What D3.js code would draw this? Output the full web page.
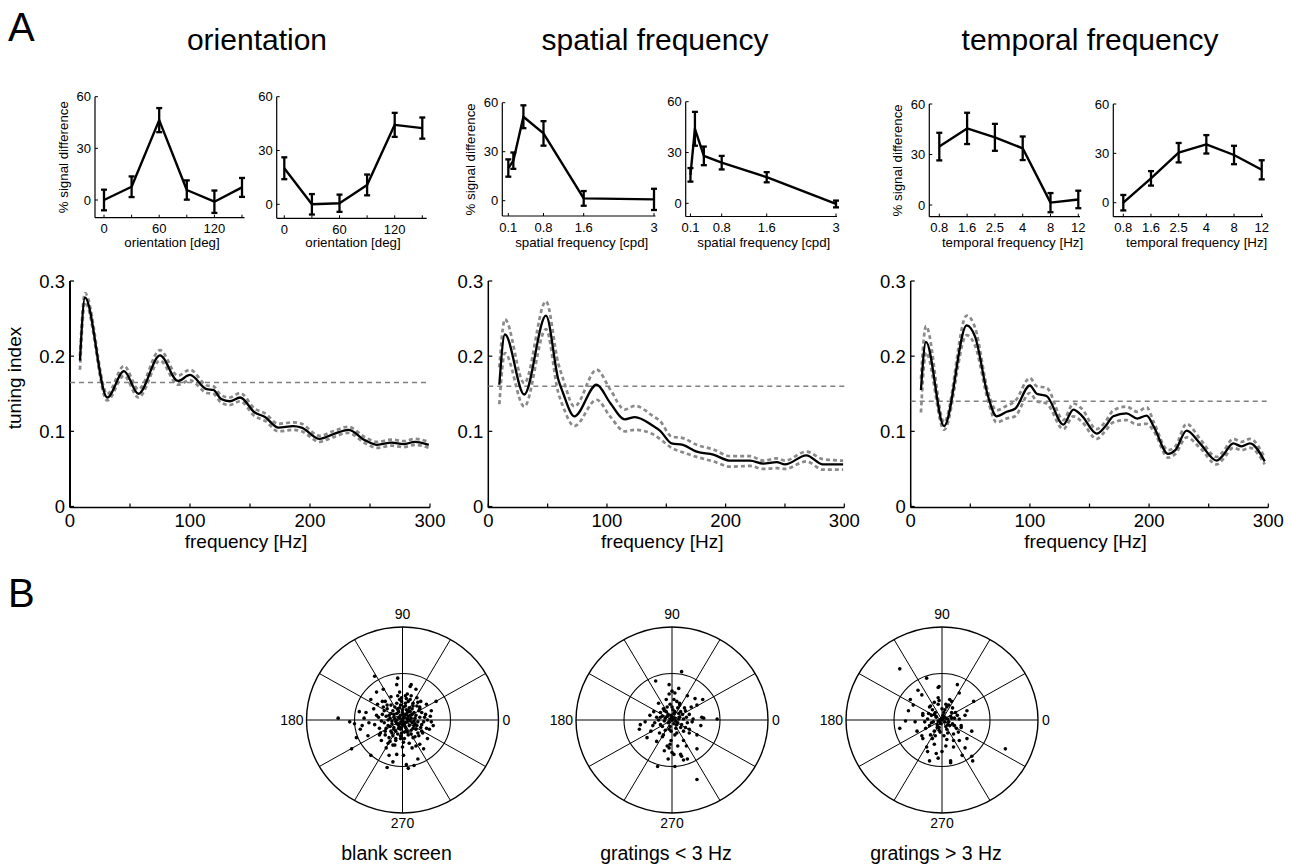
<!DOCTYPE html>
<html lang="en">
<head>
<meta charset="UTF-8">
<title>tuning</title>
<script src="https://cdn.jsdelivr.net/npm/d3@7"></script>
<style>
  body { margin: 0; background: #fff; }
  svg { display: block; font-family: "Liberation Sans", Arial, sans-serif; }
</style>
</head>
<body>
<svg width="1291" height="867" id="mainsvg"></svg>
<script>
// small tuning curves, % signal difference
const oriX = [0, 30, 60, 90, 120, 150];
const ori1 = [0, 7.7, 46.4, 5.8, -1, 7.3];
const ori1Err = [6, 6, 7, 5.6, 6.5, 5.5];
const ori2 = [20.1, 0, 0.6, 10.8, 44.3, 42.5];
const ori2Err = [6.1, 5.7, 4.8, 5.8, 6.7, 5.9];

const sfX = [0.1, 0.2, 0.4, 0.8, 1.6, 3];
const sfTicks = [0.1, 0.8, 1.6, 3];
const sf1 = [20, 24.5, 51.4, 41.2, 1.4, 0.8];
const sf1Err = [5.3, 5, 7, 7.5, 4.5, 6.5];
const sf2 = [16.8, 44, 28, 24, 15.4, -0.4];
const sf2Err = [4, 10, 5.5, 4, 3, 2];

const tfX = ['0.8', '1.6', '2.5', '4', '8', '12'];
const tf1 = [34.7, 45.5, 40.2, 33.7, 1.4, 3.3];
const tf1Err = [8.2, 9.3, 8, 7, 5.7, 5.2];
const tf2 = [0, 14.8, 30.4, 35.5, 29, 20];
const tf2Err = [4.7, 4.4, 5.9, 5.6, 5.6, 5.8];

// tuning index vs frequency (mean, upper, lower)
const oFreq = [8.3, 12.5, 31, 45, 57, 75, 90, 100, 114, 119.4, 126, 133, 141.7, 154, 162.5, 173.6, 186, 193, 208, 219, 232, 246, 256, 268, 278, 287.5, 299];
const oMean = [0.194, 0.278, 0.145, 0.18, 0.15, 0.201, 0.167, 0.175, 0.156, 0.155, 0.143, 0.14, 0.145, 0.125, 0.119, 0.105, 0.107, 0.105, 0.09, 0.096, 0.102, 0.088, 0.082, 0.085, 0.083, 0.086, 0.082];
const oUp = [0.2, 0.284, 0.15, 0.187, 0.156, 0.208, 0.174, 0.182, 0.161, 0.16, 0.148, 0.145, 0.151, 0.13, 0.124, 0.11, 0.112, 0.11, 0.094, 0.1, 0.106, 0.092, 0.086, 0.089, 0.087, 0.09, 0.086];
const oLo = [0.182, 0.272, 0.141, 0.174, 0.145, 0.194, 0.162, 0.168, 0.151, 0.15, 0.138, 0.135, 0.14, 0.12, 0.114, 0.1, 0.102, 0.1, 0.086, 0.092, 0.098, 0.084, 0.078, 0.081, 0.079, 0.082, 0.078];
const oThr = 0.165;

const sFreq = [9.3, 14, 30.3, 48.6, 59, 63, 72.5, 91.3, 102.6, 115, 123.6, 139, 144.6, 154.5, 164, 175.6, 189.6, 203.6, 220.5, 231.7, 243, 250, 268, 282, 299];
const sMean = [0.162, 0.229, 0.149, 0.254, 0.169, 0.151, 0.12, 0.162, 0.138, 0.116, 0.119, 0.107, 0.101, 0.084, 0.082, 0.073, 0.069, 0.061, 0.061, 0.057, 0.059, 0.056, 0.068, 0.056, 0.056];
const sUp = [0.185, 0.249, 0.164, 0.273, 0.19, 0.17, 0.133, 0.182, 0.156, 0.129, 0.134, 0.12, 0.114, 0.093, 0.091, 0.082, 0.076, 0.067, 0.067, 0.061, 0.064, 0.061, 0.073, 0.063, 0.061];
const sLo = [0.136, 0.204, 0.133, 0.236, 0.151, 0.133, 0.107, 0.142, 0.12, 0.1, 0.102, 0.096, 0.09, 0.078, 0.072, 0.066, 0.06, 0.053, 0.054, 0.05, 0.051, 0.05, 0.06, 0.049, 0.049];
const sThr = 0.16;

const tFreq = [8.6, 12.8, 28, 47, 54, 65, 72, 80.5, 87.5, 100, 105.7, 114, 128, 136.5, 143.5, 156, 163, 170, 181, 190, 198, 204, 216, 222, 231.5, 242.7, 256.7, 262, 270.6, 277.6, 284.6, 297];
const tMean = [0.155, 0.219, 0.107, 0.241, 0.226, 0.146, 0.12, 0.126, 0.13, 0.161, 0.15, 0.147, 0.109, 0.129, 0.121, 0.097, 0.106, 0.12, 0.124, 0.117, 0.121, 0.106, 0.07, 0.075, 0.101, 0.084, 0.061, 0.068, 0.084, 0.08, 0.084, 0.06];
const tUp = [0.17, 0.24, 0.112, 0.254, 0.238, 0.152, 0.128, 0.134, 0.14, 0.171, 0.16, 0.158, 0.115, 0.137, 0.13, 0.103, 0.112, 0.128, 0.133, 0.126, 0.132, 0.112, 0.075, 0.08, 0.11, 0.09, 0.066, 0.073, 0.09, 0.086, 0.09, 0.065];
const tLo = [0.125, 0.205, 0.102, 0.228, 0.214, 0.14, 0.112, 0.117, 0.12, 0.151, 0.14, 0.137, 0.103, 0.12, 0.113, 0.09, 0.1, 0.112, 0.115, 0.109, 0.11, 0.1, 0.065, 0.07, 0.092, 0.078, 0.056, 0.063, 0.078, 0.075, 0.078, 0.056];
const tThr = 0.14;

// polar scatter, [x, y] in % of outer radius
const blankPts = [[-67,2],[-55,-2],[-53,-31],[-33,-38],[-16,-51],[4,-48],[6,-52],[12,-49],[-29,47],[-6,38],[9,38],[8,36],[35,20],[25,17],[30,-2],[32,-6],[22,-31],[18,-26],[-48,-19],[-45,9],[-40,2],[-26,17],[-27,30],[-20,33],[-18,-12],[-24,-16],[-13,-23],[-6,-37],[1,-38],[10,-30],[11,-19],[-36,-17],[-17,-30],[-42,-6],[-44,-10],[-38,8],[-30,12],[-35,-3],[-22,-22],[-8,-27],[-2,-20],[14,-28],[20,-12],[28,-10],[24,6],[18,14],[15,24],[5,28],[-3,30],[-12,25],[-18,20],[-25,3],[-10,-45],[-14,-38],[16,-42],[26,-20],[-50,-4],[-33,22],[-5,45],[14,33],[30,10],
  [0,0],[2,3],[-3,2],[5,-2],[-6,-4],[8,5],[-9,6],[3,-8],[-2,-10],[10,-3],[-11,-1],[6,10],[-5,12],[12,8],[-14,5],[1,14],[-1,-14],[15,-6],[-7,-12],[9,-11],[4,6],[-4,-6],[7,1],[-8,1],[0,8],[0,-5],[13,2],[-13,-7],[3,18],[-6,18],[11,15],[-16,12],[18,3],[-19,-3],[6,-16],[-10,-17],[16,-14],[-3,22],[8,22],[-12,16],[20,8],[-21,6],[2,-20],[-7,-20],[13,-18],[-17,-9],[4,11],[-2,5],[10,12],[-10,10],[5,-13],[-5,-15],[14,-10],[-15,0],[17,10],[-2,16],[9,2],[-12,-12],[1,-3],[-4,9],[7,-6],[12,-1],[-1,24],[-9,-8],[3,26],[16,19],[-20,14],[19,-8],[-18,-16],[22,-2],
  [1,6],[-1,-2],[3,-3],[-4,3],[6,4],[-7,-2],[2,-6],[-3,-4],[8,-1],[-9,3],[5,8],[-6,7],[10,6],[-11,-4],[4,-11],[-4,-9],[12,-6],[-13,2],[7,13],[-8,14],[14,5],[-15,-6],[3,15],[-2,-17],[16,-2],[-17,4],[9,-15],[-11,-14],[18,12],[-19,10],[6,20],[-7,-22],[20,-5],[-22,-1],[11,18],[-14,-19],[23,3],[-24,-9],[1,-24],[-1,20],[13,-4],[-6,0],[0,11],[2,-13],[-12,7],[11,-9],[-3,13],[5,1],[-2,-8],[8,9],[-9,-10],[15,15],[-16,16],[17,-17],[4,23],[-5,26],[26,0],[-27,5],[9,26],[-10,-27],[21,-14],[-23,-14],[25,-9],[19,20],[-21,20],[0,-29],[7,-25],[-15,-25],[29,4],[-29,-5]];
const lowPts = [[10,52],[-17,42],[0,31],[3,29],[-3,28],[16,26],[24,23],[32,22],[26,16],[31,3],[33,2],[47,1],[22,1],[21,-2],[26,-16],[-33,-5],[-34,-10],[-26,-19],[-23,5],[-19,9],[-16,-23],[-5,-28],[-3,-30],[-2,-26],[0,-35],[2,-37],[9,-37],[10,-39],[16,-42],[12,-43],[26,-31],[-15,-50],[3,-50],[26,-64],[-12,3],[-8,10],[5,20],[8,16],[-6,22],[14,10],[18,6],[-28,-2],[-20,-6],[-10,-18],[12,-22],[6,-28],[-8,-33],[18,-14],[12,-12],[20,14],[-14,18],[0,14],[-3,38],[7,34],[-22,-12],[30,-6],[15,-28],[-4,-42],
  [0,0],[3,2],[-3,-2],[6,-3],[-5,4],[2,7],[-2,-7],[8,3],[-8,-1],[4,-9],[-6,9],[10,-5],[-10,4],[1,11],[-1,-12],[12,1],[-12,-5],[6,13],[-7,-11],[9,9],[-9,12],[14,-8],[0,4],[5,-5],[-4,6],[7,7],[-14,0],[15,3],[-2,17],[3,-16],
  [1,2],[-2,1],[4,-1],[-4,-3],[2,-4],[-1,5],[7,1],[-7,2],[3,9],[-3,-10],[9,-8],[-10,-7],[11,6],[-12,8],[5,-14],[-5,14],[16,-3],[-16,3],[8,18],[-9,-16],[13,13],[-13,-14],[18,-10],[-18,-3],[2,22],[-1,-22]];
const highPts = [[-44,55],[-16,45],[-4,35],[-3,36],[16,38],[18,29],[-33,22],[-25,32],[-21,27],[33,20],[26,10],[24,5],[-35,10],[-38,-1],[-44,-9],[-28,-2],[-26,-12],[-21,-17],[-20,-20],[-16,-29],[-15,-34],[-6,-36],[-4,-41],[0,-34],[9,-44],[9,-46],[12,-22],[12,-29],[18,-22],[26,-20],[31,-12],[21,-38],[31,-39],[32,-44],[66,-31],[-13,-44],[-8,19],[4,17],[8,22],[10,20],[-13,14],[-20,7],[20,-6],[-10,-20],[6,-14],[-4,24],[14,8],[-30,16],[24,-30],[4,-28],[-8,-26],
  [1,1],[4,2],[-2,-3],[7,-2],[-6,3],[2,8],[-3,-8],[9,4],[-9,-2],[5,-10],[-7,8],[11,-4],[-11,5],[0,12],[-2,-13],[13,2],[-13,-6],[5,14],[-8,-12],[10,8],[-10,11],[15,-9],[-15,1],[16,5],[-4,17],[2,-17],[-17,-9],[17,-13],[1,5],[6,-5],[-5,-5],[12,-15],[-12,15],
  [0,2],[-2,0],[3,-2],[-4,-1],[2,4],[-1,-4],[6,1],[-6,4],[4,-7],[-5,-8],[8,-6],[-8,6],[10,2],[-11,-3],[3,11],[-3,-11],[13,-6],[-14,7],[7,16],[-7,-17],[18,1],[-18,-2],[11,13],[-12,-16],[20,-8],[-20,5],[5,-21],[-3,21]];

const svg = d3.select('#mainsvg');
svg.append('rect').attr('width', 1291).attr('height', 867).attr('fill', '#fff');

// panel letters and column titles
svg.append('text').text('A').attr('x', 8).attr('y', 41).attr('font-size', 40);
svg.append('text').text('B').attr('x', 8).attr('y', 607).attr('font-size', 40);
const titles = [['orientation', 257], ['spatial frequency', 655], ['temporal frequency', 1090]];
svg.selectAll('text.title').data(titles).enter().append('text')
    .attr('class', 'title')
    .attr('x', d => d[1])
    .attr('y', 50)
    .attr('text-anchor', 'middle')
    .attr('font-size', 30)
    .text(d => d[0]);

// ---- small panels ----
const small = [
    { vals: ori1, err: ori1Err, xv: oriX, x: d3.scaleLinear().domain([0, 150]).range([104, 242]),
      left: 95, right: 244.5, y60: 96.7, y0: 200, bottom: 217.7, ticks: oriX, labels: [0, 60, 120],
      xlab: 'orientation [deg]', xlabX: 172, ylab: true },
    { vals: ori2, err: ori2Err, xv: oriX, x: d3.scaleLinear().domain([0, 150]).range([284.3, 422.3]),
      left: 276.7, right: 426.7, y60: 96.7, y0: 204.3, bottom: 218.3, ticks: oriX, labels: [0, 60, 120],
      xlab: 'orientation [deg]', xlabX: 353, ylab: false },
    { vals: sf1, err: sf1Err, xv: sfX, x: d3.scaleLinear().domain([0, 0.8, 1.6, 3]).range([503.3, 543.5, 583.7, 654]),
      left: 502.3, right: 655.5, y60: 102.7, y0: 200.7, bottom: 216, ticks: sfTicks, labels: sfTicks,
      xlab: 'spatial frequency [cpd]', xlabX: 581.7, ylab: true },
    { vals: sf2, err: sf2Err, xv: sfX, x: d3.scaleLinear().domain([0, 0.8, 1.6, 3]).range([686, 721.7, 766.7, 836]),
      left: 685.7, right: 837, y60: 101.7, y0: 203.3, bottom: 216.5, ticks: sfTicks, labels: sfTicks,
      xlab: 'spatial frequency [cpd]', xlabX: 763.8, ylab: false },
    { vals: tf1, err: tf1Err, xv: tfX, x: d3.scalePoint().domain(tfX).range([939.3, 1078.3]),
      left: 929.3, right: 1080, y60: 104, y0: 205, bottom: 216.7, ticks: tfX, labels: tfX,
      xlab: 'temporal frequency [Hz]', xlabX: 1012.5, ylab: true },
    { vals: tf2, err: tf2Err, xv: tfX, x: d3.scalePoint().domain(tfX).range([1123.3, 1261.7]),
      left: 1113.3, right: 1263, y60: 104, y0: 202.7, bottom: 216.7, ticks: tfX, labels: tfX,
      xlab: 'temporal frequency [Hz]', xlabX: 1196.7, ylab: false }
];

small.forEach(p => {
    const g = svg.append('g');
    const y = d3.scaleLinear().domain([0, 60]).range([p.y0, p.y60]);
    // axes
    g.append('line').attr('x1', p.left).attr('x2', p.left).attr('y1', p.bottom).attr('y2', p.y60)
        .attr('stroke', '#000').attr('stroke-width', 1.2);
    g.append('line').attr('x1', p.left).attr('x2', p.right).attr('y1', p.bottom).attr('y2', p.bottom)
        .attr('stroke', '#000').attr('stroke-width', 1.2);
    [0, 30, 60].forEach(v => {
        g.append('line').attr('x1', p.left).attr('x2', p.left + 3).attr('y1', y(v)).attr('y2', y(v))
            .attr('stroke', '#000').attr('stroke-width', 1);
        g.append('text').text(v).attr('x', p.left - 4).attr('y', y(v)).attr('dy', '0.36em')
            .attr('text-anchor', 'end').attr('font-size', 13);
    });
    p.ticks.forEach(t => {
        g.append('line').attr('x1', p.x(t)).attr('x2', p.x(t)).attr('y1', p.bottom).attr('y2', p.bottom - 3)
            .attr('stroke', '#000').attr('stroke-width', 1);
    });
    p.labels.forEach(t => {
        g.append('text').text(t).attr('x', p.x(t)).attr('y', p.bottom + 15.5)
            .attr('text-anchor', 'middle').attr('font-size', 13);
    });
    g.append('text').text(p.xlab).attr('x', p.xlabX).attr('y', 246.5)
        .attr('text-anchor', 'middle').attr('font-size', 13.3);
    if (p.ylab) {
        g.append('text').text('% signal difference')
            .attr('transform', `translate(${p.left - 31},${(p.y60 + p.bottom) / 2}) rotate(-90)`)
            .attr('text-anchor', 'middle').attr('dominant-baseline', 'middle').attr('font-size', 13.3);
    }
    const pts = p.xv.map((xv, i) => ({ x: p.x(xv), v: p.vals[i], e: p.err[i] }));
    // error bars
    const eb = g.selectAll('g.eb').data(pts).enter().append('g')
        .attr('stroke', '#000').attr('stroke-width', 2.3);
    eb.append('line').attr('x1', d => d.x).attr('x2', d => d.x)
        .attr('y1', d => y(d.v - d.e)).attr('y2', d => y(d.v + d.e));
    eb.append('line').attr('x1', d => d.x - 3).attr('x2', d => d.x + 3)
        .attr('y1', d => y(d.v - d.e)).attr('y2', d => y(d.v - d.e));
    eb.append('line').attr('x1', d => d.x - 3).attr('x2', d => d.x + 3)
        .attr('y1', d => y(d.v + d.e)).attr('y2', d => y(d.v + d.e));
    g.append('path')
        .attr('d', d3.line().x(d => d.x).y(d => y(d.v))(pts))
        .attr('fill', 'none').attr('stroke', '#000').attr('stroke-width', 2.4)
        .attr('stroke-linejoin', 'round');
});

// ---- tuning index panels ----
const big = [
    { f: oFreq, m: oMean, u: oUp, l: oLo, thr: oThr, left: 70, right: 430, ylab: true },
    { f: sFreq, m: sMean, u: sUp, l: sLo, thr: sThr, left: 488.3, right: 844.3, ylab: false },
    { f: tFreq, m: tMean, u: tUp, l: tLo, thr: tThr, left: 910.7, right: 1268.3, ylab: false }
];
const bigTop = 281, bigZero = 506.5;

big.forEach(p => {
    const g = svg.append('g');
    const x = d3.scaleLinear().domain([0, 300]).range([p.left, p.right]);
    const y = d3.scaleLinear().domain([0, 0.3]).range([bigZero, bigTop]);
    g.append('line').attr('x1', x(0)).attr('x2', x(0)).attr('y1', bigZero + 1).attr('y2', bigTop)
        .attr('stroke', '#000').attr('stroke-width', p.ylab ? 2 : 1.5);
    g.append('line').attr('x1', x(0)).attr('x2', x(300)).attr('y1', bigZero + 1).attr('y2', bigZero + 1)
        .attr('stroke', '#000').attr('stroke-width', 1.5);
    [0, 0.1, 0.2, 0.3].forEach(v => {
        g.append('line').attr('x1', x(0)).attr('x2', x(0) + 4).attr('y1', y(v)).attr('y2', y(v))
            .attr('stroke', '#000').attr('stroke-width', 1.2);
        g.append('text').text(v === 0 ? '0' : v.toFixed(1)).attr('x', x(0) - 5).attr('y', y(v))
            .attr('dy', '0.36em').attr('text-anchor', 'end').attr('font-size', 18.5);
    });
    d3.range(0, 301, 50).forEach(t => {
        g.append('line').attr('x1', x(t)).attr('x2', x(t)).attr('y1', bigZero + 1).attr('y2', bigZero - 3)
            .attr('stroke', '#000').attr('stroke-width', 1.2);
    });
    [0, 100, 200, 300].forEach(t => {
        g.append('text').text(t).attr('x', x(t)).attr('y', 527)
            .attr('text-anchor', 'middle').attr('font-size', 18.5);
    });
    g.append('text').text('frequency [Hz]').attr('x', (p.left + p.right) / 2 - 4).attr('y', 548)
        .attr('text-anchor', 'middle').attr('font-size', 19);
    if (p.ylab) {
        g.append('text').text('tuning index')
            .attr('transform', `translate(16,378) rotate(-90)`)
            .attr('text-anchor', 'middle').attr('dominant-baseline', 'middle').attr('font-size', 19);
    }
    // threshold
    g.append('line').attr('x1', x(0)).attr('x2', x(300)).attr('y1', y(p.thr)).attr('y2', y(p.thr))
        .attr('stroke', '#808080').attr('stroke-width', 1.7).attr('stroke-dasharray', '5,4');
    const line = d3.line().x(d => x(d[0])).y(d => y(d[1])).curve(d3.curveMonotoneX);
    [p.u, p.l].forEach(s => {
        g.append('path').attr('d', line(d3.zip(p.f, s)))
            .attr('fill', 'none').attr('stroke', '#8a8a8a').attr('stroke-width', 2.7)
            .attr('stroke-dasharray', '4,3');
    });
    g.append('path').attr('d', line(d3.zip(p.f, p.m)))
        .attr('fill', 'none').attr('stroke', '#000').attr('stroke-width', 2.3);
});

// ---- polar scatter panels ----
const polar = [
    { pts: blankPts, cx: 402.5, label: 'blank screen' },
    { pts: lowPts, cx: 672, label: 'gratings < 3 Hz' },
    { pts: highPts, cx: 942, label: 'gratings > 3 Hz' }
];
const pcy = 720, prx = 96, pry = 93;

polar.forEach(p => {
    const g = svg.append('g');
    const x = d3.scaleLinear().domain([-100, 100]).range([p.cx - prx, p.cx + prx]);
    const y = d3.scaleLinear().domain([-100, 100]).range([pcy + pry, pcy - pry]);
    d3.range(0, 360, 30).forEach(a => {
        const r = a * Math.PI / 180;
        g.append('line').attr('x1', x(0)).attr('y1', y(0))
            .attr('x2', x(100 * Math.cos(r))).attr('y2', y(100 * Math.sin(r)))
            .attr('stroke', '#000').attr('stroke-width', 1);
    });
    g.append('ellipse').attr('cx', x(0)).attr('cy', y(0)).attr('rx', prx / 2).attr('ry', pry / 2)
        .attr('fill', 'none').attr('stroke', '#000').attr('stroke-width', 1.1);
    g.append('ellipse').attr('cx', x(0)).attr('cy', y(0)).attr('rx', prx).attr('ry', pry)
        .attr('fill', 'none').attr('stroke', '#000').attr('stroke-width', 1.4);
    g.selectAll('circle').data(p.pts).enter().append('circle')
        .attr('cx', d => x(d[0])).attr('cy', d => y(d[1])).attr('r', 1.8).attr('fill', '#000');
    g.append('text').text('90').attr('x', x(0)).attr('y', y(100) - 8)
        .attr('text-anchor', 'middle').attr('font-size', 14);
    g.append('text').text('270').attr('x', x(0)).attr('y', y(-100) + 15)
        .attr('text-anchor', 'middle').attr('font-size', 14);
    g.append('text').text('180').attr('x', x(-100) - 3).attr('y', y(0) + 5)
        .attr('text-anchor', 'end').attr('font-size', 14);
    g.append('text').text('0').attr('x', x(100) + 4).attr('y', y(0) + 5)
        .attr('text-anchor', 'start').attr('font-size', 14);
    g.append('text').text(p.label).attr('x', x(0) - 6).attr('y', 860)
        .attr('text-anchor', 'middle').attr('font-size', 19.5);
});
</script>
</body>
</html>
